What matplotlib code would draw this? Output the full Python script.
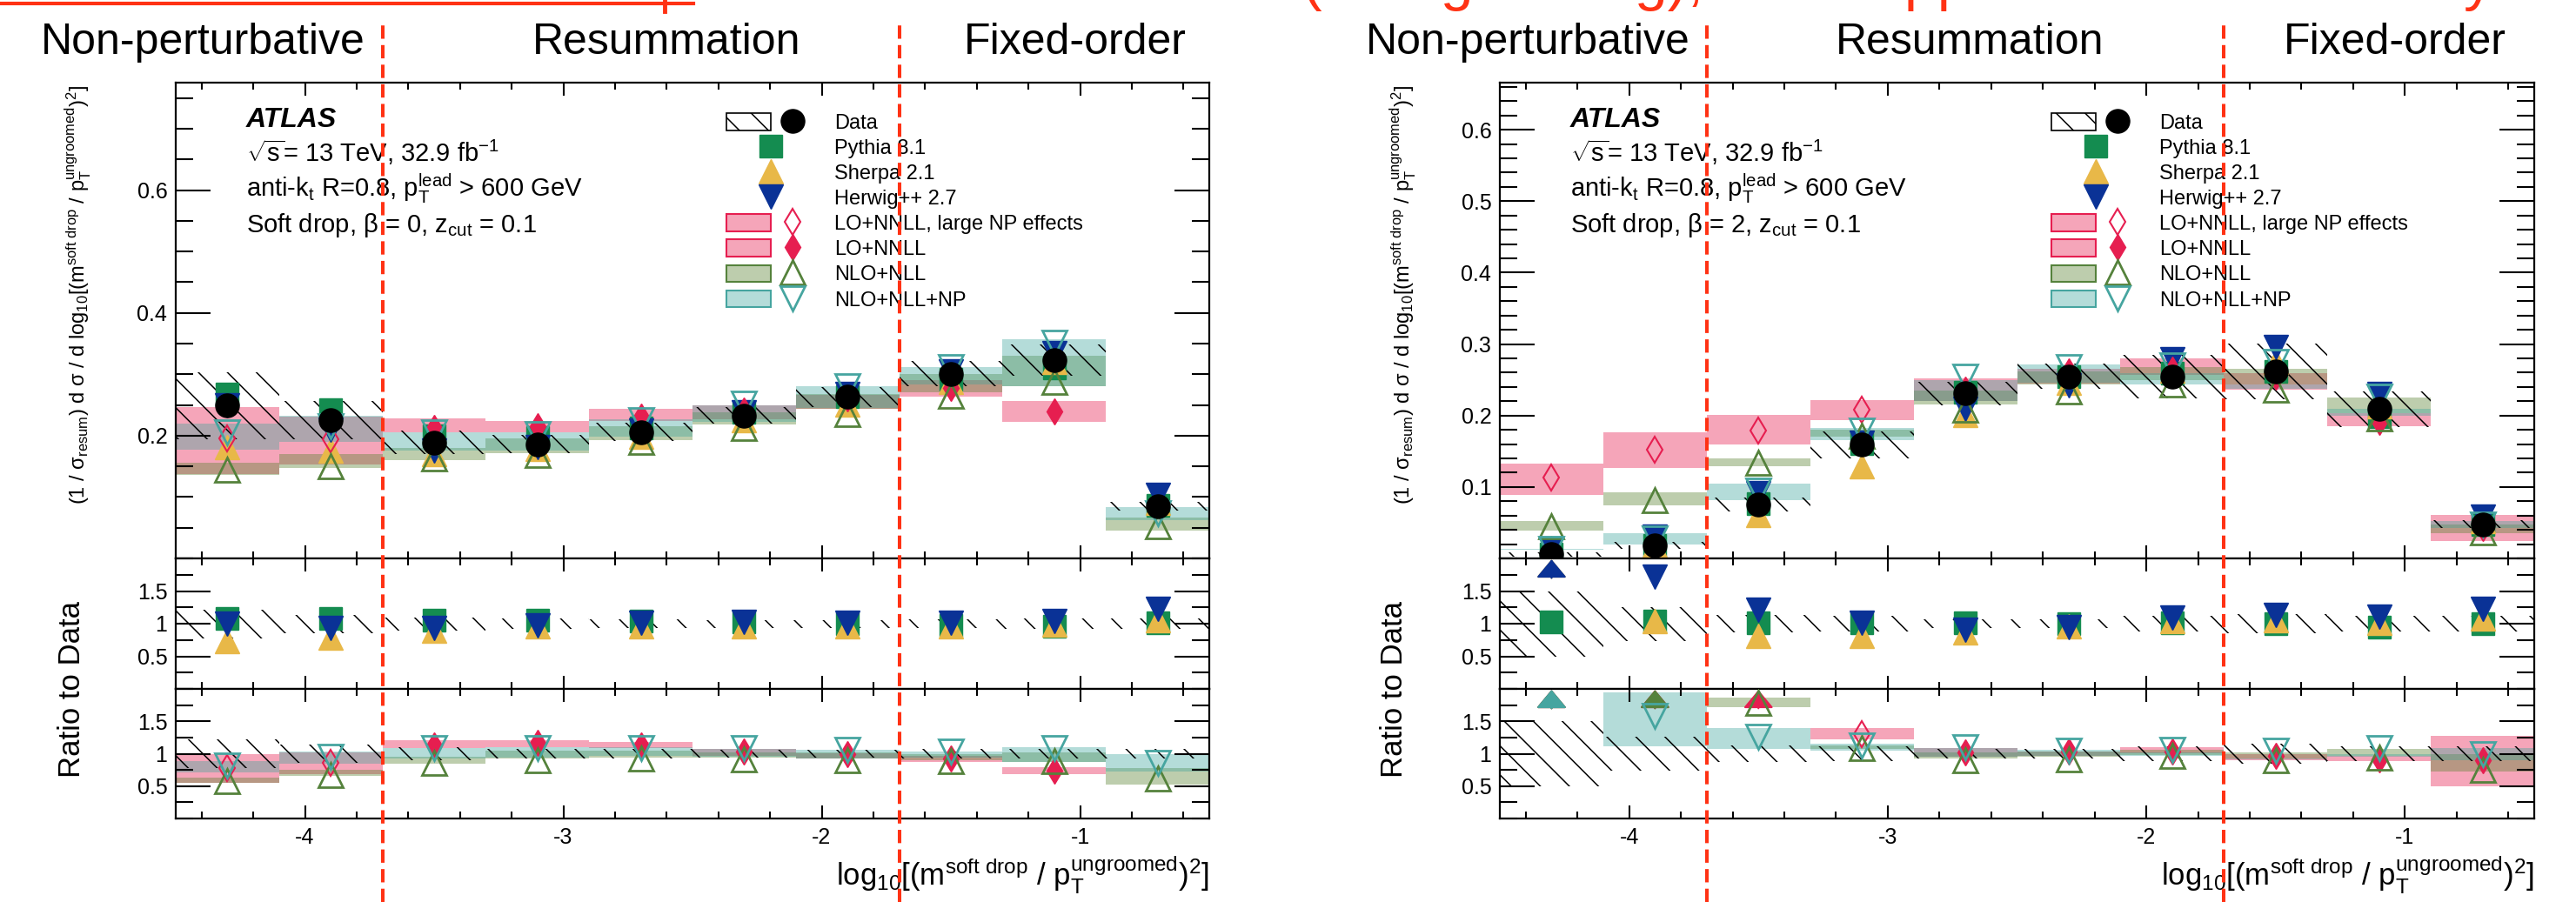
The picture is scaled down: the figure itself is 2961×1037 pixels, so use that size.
import numpy as np
import matplotlib
matplotlib.use("Agg")
import matplotlib.pyplot as plt
import matplotlib.transforms as mtransforms
from matplotlib.lines import Line2D
from matplotlib.patches import Rectangle
from matplotlib.legend_handler import HandlerTuple
from matplotlib.ticker import MultipleLocator, FixedLocator, FormatStrFormatter
from matplotlib.colors import to_rgba

plt.rcParams['font.family'] = ['Liberation Sans', 'DejaVu Sans']
plt.rcParams['mathtext.fontset'] = 'custom'
plt.rcParams['mathtext.rm'] = 'Liberation Sans'
plt.rcParams['mathtext.it'] = 'Liberation Sans:italic'
plt.rcParams['mathtext.bf'] = 'Liberation Sans:bold'
plt.rcParams['axes.unicode_minus'] = False
plt.rcParams['hatch.color'] = 'black'
plt.rcParams['hatch.linewidth'] = 1.1

# ---- data -------------------------------------------------------------
centers = [-4.3, -3.9, -3.5, -3.1, -2.7, -2.3, -1.9, -1.5, -1.1, -0.7]
bin_width = 0.4
region_edges = [-3.7, -1.7]
nan = np.nan

# beta = 0
data_b0 = [0.249, 0.225, 0.189, 0.186, 0.206, 0.233, 0.263, 0.301, 0.323, 0.085]
data_b0_rel = [0.22, 0.14, 0.10, 0.08, 0.07, 0.06, 0.06, 0.07, 0.08, 0.08]
pythia_b0 = [0.268, 0.242, 0.200, 0.197, 0.213, 0.238, 0.263, 0.292, 0.310, 0.086]
sherpa_b0 = [0.182, 0.176, 0.170, 0.178, 0.198, 0.225, 0.251, 0.287, 0.320, 0.090]
herwig_b0 = [0.249, 0.209, 0.176, 0.182, 0.208, 0.238, 0.268, 0.304, 0.334, 0.104]
lonnll_b0 = [0.195, 0.194, 0.212, 0.216, 0.231, 0.241, 0.260, 0.277, 0.240, nan]
lonnll_b0_lo = [0.137, 0.153, 0.206, 0.205, 0.224, 0.226, 0.243, 0.263, 0.222, nan]
lonnll_b0_hi = [0.246, 0.231, 0.228, 0.224, 0.243, 0.249, 0.266, 0.290, 0.257, nan]
lonnll_b0_largenp = [True, True, False, False, False, False, False, False, False, False]
nlonll_b0 = [0.144, 0.150, 0.163, 0.168, 0.190, 0.212, 0.235, 0.265, 0.288, 0.052]
nlonll_b0_lo = [0.136, 0.148, 0.160, 0.172, 0.193, 0.218, 0.243, 0.270, 0.280, 0.045]
nlonll_b0_hi = [0.156, 0.170, 0.180, 0.195, 0.215, 0.238, 0.268, 0.300, 0.330, 0.066]
nlonllnp_b0 = [0.205, 0.215, 0.206, 0.203, 0.225, 0.252, 0.280, 0.312, 0.352, 0.073]
nlonllnp_b0_lo = [0.177, 0.190, 0.176, 0.176, 0.199, 0.222, 0.245, 0.283, 0.280, 0.062]
nlonllnp_b0_hi = [0.219, 0.232, 0.206, 0.205, 0.226, 0.250, 0.280, 0.312, 0.357, 0.084]

# beta = 2
data_b2 = [0.006, 0.018, 0.075, 0.159, 0.231, 0.255, 0.254, 0.262, 0.209, 0.048]
data_b2_rel = [0.50, 0.26, 0.13, 0.12, 0.07, 0.07, 0.12, 0.15, 0.12, 0.12]
pythia_b2 = [0.0062, 0.0187, 0.0765, 0.161, 0.233, 0.255, 0.259, 0.262, 0.199, 0.048]
sherpa_b2 = [0.015, 0.0187, 0.061, 0.129, 0.201, 0.246, 0.263, 0.275, 0.213, 0.052]
herwig_b2 = [0.014, 0.031, 0.091, 0.162, 0.210, 0.242, 0.279, 0.296, 0.230, 0.059]
lonnll_b2 = [0.113, 0.152, 0.179, 0.208, 0.236, 0.262, 0.264, 0.254, 0.191, 0.043]
lonnll_b2_lo = [0.089, 0.127, 0.159, 0.194, 0.220, 0.245, 0.257, 0.236, 0.185, 0.024]
lonnll_b2_hi = [0.133, 0.177, 0.2015, 0.222, 0.252, 0.265, 0.280, 0.259, 0.203, 0.061]
lonnll_b2_largenp = [True, True, True, True, False, False, False, False, False, False]
nlonll_b2 = [0.045, 0.082, 0.134, 0.172, 0.208, 0.234, 0.244, 0.236, 0.196, 0.036]
nlonll_b2_lo = [0.039, 0.074, 0.129, 0.170, 0.215, 0.244, 0.250, 0.244, 0.203, 0.035]
nlonll_b2_hi = [0.052, 0.092, 0.140, 0.180, 0.235, 0.262, 0.268, 0.266, 0.225, 0.048]
nlonllnp_b2 = [0.013, 0.0286, 0.095, 0.179, 0.255, 0.268, 0.270, 0.275, 0.226, 0.048]
nlonllnp_b2_lo = [0.0122, 0.020, 0.081, 0.166, 0.220, 0.246, 0.244, 0.238, 0.200, 0.043]
nlonllnp_b2_hi = [0.0138, 0.035, 0.105, 0.183, 0.250, 0.271, 0.259, 0.244, 0.209, 0.052]

legend_labels = ["Data", "Pythia 8.1", "Sherpa 2.1", "Herwig++ 2.7",
                 "LO+NNLL, large NP effects", "LO+NNLL", "NLO+NLL", "NLO+NLL+NP"]
region_names = ["Non-perturbative", "Resummation", "Fixed-order"]

# ---- style ------------------------------------------------------------
W, H = 2961, 1037
RED = '#ff3214'
C_PY, C_SH, C_HW = '#148c50', '#e8b848', '#0a3296'
C_LO, C_NLO, C_NP = '#e61e50', '#55823c', '#46a5a0'
B_LO, B_NLO, B_NP = to_rgba('#e62050', 0.40), to_rgba('#5a8232', 0.40), to_rgba('#3ca59b', 0.38)

st_data = dict(marker='o', color='black', ms=19.5, ls='none')
st_py = dict(marker='s', color=C_PY, ms=19, ls='none')
st_sh = dict(marker='^', color=C_SH, ms=20, ls='none')
st_hw = dict(marker='v', color=C_HW, ms=20, ls='none')
st_lo = dict(marker='d', color=C_LO, ms=15, ls='none')
st_lo_open = dict(marker='d', color=C_LO, mfc='none', mew=1.5, ms=15, ls='none')
st_nlo = dict(marker='^', color=C_NLO, mfc='none', mew=2, ms=19.5, ls='none')
st_np = dict(marker='v', color=C_NP, mfc='none', mew=2, ms=19.5, ls='none')


def fx(p):
    return p / W


def fy(p):
    return 1 - p / H


fig = plt.figure(figsize=(W / 100, H / 100), dpi=100)


def style_axes(ax):
    ax.tick_params(which='both', direction='in', top=True, right=True, width=1.5,
                   labelsize=18, pad=7)
    ax.tick_params(axis='y', which='major', length=29)
    ax.tick_params(axis='y', which='minor', length=14.5)
    ax.tick_params(axis='x', which='major', length=11)
    ax.tick_params(axis='x', which='minor', length=5.5)
    ax.xaxis.set_major_locator(MultipleLocator(1))
    ax.xaxis.set_minor_locator(MultipleLocator(0.2))
    ax.yaxis.set_major_formatter(FormatStrFormatter('%g'))
    for s in ax.spines.values():
        s.set_linewidth(1.6)


def band(ax, lo, hi, color, z):
    lo = np.asarray(lo, float)
    hi = np.asarray(hi, float)
    ax.bar(centers, hi - lo, bottom=lo, width=bin_width, color=color, lw=0, zorder=z)


def hatch_band(ax, lo, hi):
    lo = np.asarray(lo, float)
    hi = np.asarray(hi, float)
    ax.bar(centers, hi - lo, bottom=lo, width=bin_width, facecolor='none',
           edgecolor='black', hatch='\\', lw=0, zorder=2)


def points(ax, y, st, z, top=None):
    x = np.asarray(centers)
    y = np.asarray(y, float)
    over = np.zeros(len(y), bool) if top is None else np.nan_to_num(y, nan=0) > top
    ax.plot(x[~over], y[~over], zorder=z, **st)
    for xc in x[over]:
        ax.annotate('', xy=(xc, 1.985), xytext=(xc, 1.70),
                    arrowprops=dict(arrowstyle='-|>,head_length=0.6,head_width=0.5',
                                    color=st['color'], lw=1.5, mutation_scale=22,
                                    shrinkA=0, shrinkB=0), zorder=z)


def lonnll_points(ax, y, flags, z, top=None):
    y = np.asarray(y, float)
    f = np.asarray(flags)
    points(ax, np.where(f, y, nan), st_lo_open, z, top)
    points(ax, np.where(~f, y, nan), st_lo, z, top)


def panel(x0, x1, ymax, ymajor, yminor, beta, d, rel, py, sh, hw,
          lo, lo_lo, lo_hi, lo_flag, nlo, nlo_lo, nlo_hi, np_, np_lo, np_hi):
    left, width = fx(x0), (x1 - x0) / W
    ax = fig.add_axes([left, fy(642), width, (642 - 95) / H])
    r1 = fig.add_axes([left, fy(792), width, 150 / H], sharex=ax)
    r2 = fig.add_axes([left, fy(941), width, 149 / H], sharex=ax)
    for a in (ax, r1, r2):
        style_axes(a)
    ax.set_xlim(-4.5, -0.5)
    ax.set_ylim(0, ymax)
    ax.yaxis.set_major_locator(FixedLocator(ymajor))
    ax.yaxis.set_minor_locator(MultipleLocator(yminor))
    for a in (r1, r2):
        a.set_ylim(0, 2)
        a.yaxis.set_major_locator(FixedLocator([0.5, 1, 1.5]))
        a.yaxis.set_minor_locator(MultipleLocator(0.25))
    ax.tick_params(labelbottom=False)
    r1.tick_params(labelbottom=False)

    d = np.asarray(d, float)
    rel = np.asarray(rel, float)

    # main panel
    band(ax, lo_lo, lo_hi, B_LO, 1)
    band(ax, nlo_lo, nlo_hi, B_NLO, 1.1)
    band(ax, np_lo, np_hi, B_NP, 1.2)
    hatch_band(ax, d * (1 - rel), d * (1 + rel))
    points(ax, py, st_py, 3)
    points(ax, sh, st_sh, 3.1)
    points(ax, hw, st_hw, 3.2)
    lonnll_points(ax, lo, lo_flag, 3.5)
    points(ax, nlo, st_nlo, 3.6)
    points(ax, np_, st_np, 3.7)
    points(ax, d, st_data, 5)

    # ratio: MC / data
    hatch_band(r1, 1 - rel, 1 + rel)
    points(r1, np.asarray(py) / d, st_py, 3, top=2)
    points(r1, np.asarray(sh) / d, st_sh, 3.1, top=2)
    points(r1, np.asarray(hw) / d, st_hw, 3.2, top=2)

    # ratio: theory / data
    band(r2, np.asarray(lo_lo) / d, np.asarray(lo_hi) / d, B_LO, 1)
    band(r2, np.asarray(nlo_lo) / d, np.asarray(nlo_hi) / d, B_NLO, 1.1)
    band(r2, np.asarray(np_lo) / d, np.asarray(np_hi) / d, B_NP, 1.2)
    hatch_band(r2, 1 - rel, 1 + rel)
    lonnll_points(r2, np.asarray(lo) / d, lo_flag, 3.5, top=2)
    points(r2, np.asarray(nlo) / d, st_nlo, 3.6, top=2)
    points(r2, np.asarray(np_) / d, st_np, 3.7, top=2)

    # labels inside
    ax.text(0.068, 0.9066, 'ATLAS', transform=ax.transAxes, fontsize=23,
            fontweight='bold', fontstyle='italic', va='baseline')
    ax.text(0.068, 0.8333, r'$\sqrt{\mathrm{s}}$= 13 TeV, 32.9 fb$^{-1}$',
            transform=ax.transAxes, fontsize=21, va='baseline')
    ax.text(0.068, 0.760, r'anti-k$_{\mathrm{t}}$ R=0.8, p$_{\mathrm{T}}^{\mathrm{lead}}$ > 600 GeV',
            transform=ax.transAxes, fontsize=21, va='baseline')
    ax.text(0.068, 0.686, r'Soft drop, β = %d, z$_{\mathrm{cut}}$ = 0.1' % beta,
            transform=ax.transAxes, fontsize=21, va='baseline')

    handles = [
        (Rectangle((0, 0), 1, 1, facecolor='none', edgecolor='black', hatch='\\', lw=1.2),
         Line2D([], [], **st_data)),
        Line2D([], [], **st_py),
        Line2D([], [], **st_sh),
        Line2D([], [], **st_hw),
        (Rectangle((0, 0), 1, 1, facecolor=B_LO, edgecolor=C_LO, lw=1.5), Line2D([], [], **st_lo_open)),
        (Rectangle((0, 0), 1, 1, facecolor=B_LO, edgecolor=C_LO, lw=1.5), Line2D([], [], **st_lo)),
        (Rectangle((0, 0), 1, 1, facecolor=B_NLO, edgecolor=C_NLO, lw=1.5), Line2D([], [], **st_nlo)),
        (Rectangle((0, 0), 1, 1, facecolor=B_NP, edgecolor=C_NP, lw=1.5), Line2D([], [], **st_np)),
    ]
    ax.legend(handles, legend_labels, loc='upper left', bbox_to_anchor=(0.533, 0.936),
              frameon=False, fontsize=17, handlelength=4.3, handleheight=0.9,
              labelspacing=0.26, handletextpad=0.95, borderpad=0, borderaxespad=0,
              handler_map={tuple: HandlerTuple(ndivide=None, pad=0)})

    # region boundaries
    trans = mtransforms.blended_transform_factory(ax.transData, fig.transFigure)
    for xe in region_edges:
        fig.add_artist(Line2D([xe, xe], [0, fy(22)], transform=trans, color=RED,
                              lw=2.9, ls=(0, (3.8, 1.8)), zorder=10))
    return ax


ylab = (r'(1 / σ$_{\mathrm{resum}}$) d σ / d log$_{10}$[(m$^{\mathrm{soft\ drop}}$'
        r' / p$_{\mathrm{T}}^{\mathrm{ungroomed}}$)$^{2}$]')
xlab = r'log$_{10}$[(m$^{\mathrm{soft\ drop}}$ / p$_{\mathrm{T}}^{\mathrm{ungroomed}}$)$^{2}$]'

panel(202, 1390, 0.775, [0.2, 0.4, 0.6], 0.05, 0, data_b0, data_b0_rel,
      pythia_b0, sherpa_b0, herwig_b0, lonnll_b0, lonnll_b0_lo, lonnll_b0_hi, lonnll_b0_largenp,
      nlonll_b0, nlonll_b0_lo, nlonll_b0_hi, nlonllnp_b0, nlonllnp_b0_lo, nlonllnp_b0_hi)
panel(1724, 2913, 0.666, [0.1, 0.2, 0.3, 0.4, 0.5, 0.6], 0.02, 2, data_b2, data_b2_rel,
      pythia_b2, sherpa_b2, herwig_b2, lonnll_b2, lonnll_b2_lo, lonnll_b2_hi, lonnll_b2_largenp,
      nlonll_b2, nlonll_b2_lo, nlonll_b2_hi, nlonllnp_b2, nlonllnp_b2_lo, nlonllnp_b2_hi)

for xl, xr, ycx, rcx, xs in [(202, 1390, 90, 83, (233, 766, 1236)),
                             (1724, 2913, 1613, 1602, (1756, 2264, 2753))]:
    fig.text(fx(ycx), fy(97), ylab, rotation=90, ha='center', va='top', fontsize=17)
    fig.text(fx(rcx), fy(792), 'Ratio to Data', rotation=90, ha='center', va='center', fontsize=25)
    fig.text(fx(xr), fy(1018), xlab, ha='right', va='baseline', fontsize=25)
    for name, xc in zip(region_names, xs):
        fig.text(fx(xc), fy(62), name, ha='center', va='baseline', fontsize=36)

# cut-off slide annotations at the top edge
fig.add_artist(Line2D([0, fx(797)], [fy(4), fy(4)], color=RED, lw=3))
fig.add_artist(Line2D([fx(764), fx(764)], [fy(0), fy(13)], color=RED, lw=3.5))
fig.text(fx(1497), fy(-1), '(Using the log), more approximated boundary', color=RED,
         fontsize=49, ha='left', va='baseline')

fig.savefig('out.png', dpi=100)
